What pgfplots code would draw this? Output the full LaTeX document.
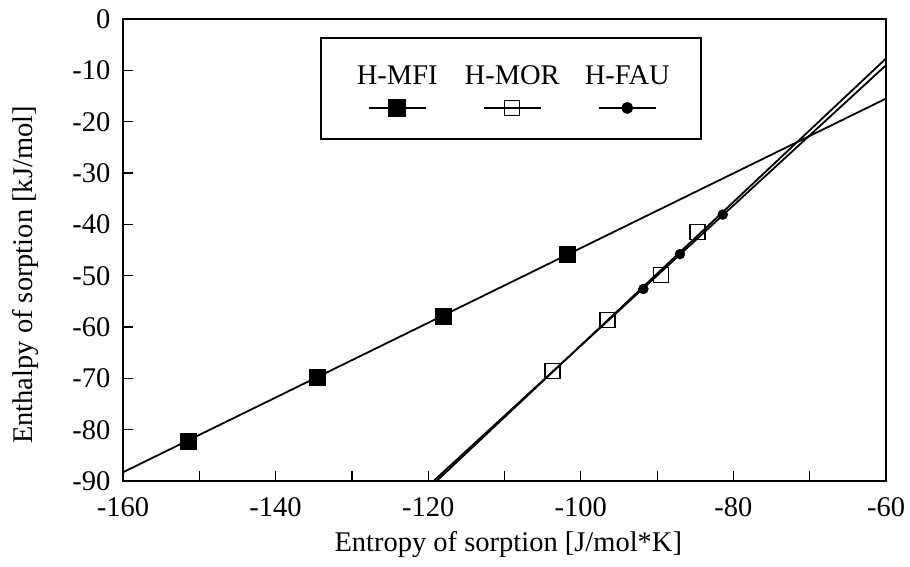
\documentclass[border=0pt]{standalone}
\usepackage{fontspec}
\setmainfont{Liberation Serif}
\usepackage{pgfplots}
\pgfplotsset{compat=1.18}
\pgfplotsset{
  legsample/.style={legend image code/.code={
    \begin{scope}[overlay, shift={(57.5pt,-23pt)}]
      \draw[black, solid, line width=1.2pt] (-28.5pt,0pt) -- (28.5pt,0pt);
      \draw plot coordinates {(0pt,0pt)};
    \end{scope}
  }}
}
\begin{document}
\fontsize{28.5}{34}\selectfont
\begin{tikzpicture}
\begin{axis}[
  scale only axis, width=763pt, height=462pt,
  xmin=-160, xmax=-60, ymin=-90, ymax=0,
  axis line style={line width=2pt},
  tick align=inside, tick pos=left,
  major tick length=10pt, minor tick length=10pt,
  every tick/.style={black, line width=1.2pt},
  xtick={-160,-140,...,-60},
  minor xtick={-150,-130,...,-70},
  ytick={-90,-80,...,0},
  /pgf/number format/assume math mode=true,
  xticklabel style={yshift=-7pt},
  yticklabel style={xshift=-3pt},
  xlabel={Entropy of sorption [J/mol*K]},
  ylabel={Enthalpy of sorption [kJ/mol]},
  every axis x label/.style={at={(axis description cs:0.505,-0.1385)}, anchor=center},
  every axis y label/.style={at={(axis description cs:-0.1278,0.446)}, rotate=90, anchor=center},
  legend columns=3,
  legend style={at={(0.258,0.961)}, anchor=north west, draw=black, line width=1.8pt,
    inner xsep=19pt, inner ysep=28pt, /tikz/column sep=2.5pt,
    cells={anchor=base west},
    nodes={text width=110pt, align=center, inner sep=0pt, text height=19pt, text depth=26pt}},
]
\addplot[black, line width=1.8pt, forget plot] coordinates {(-160,-88.3) (-60,-15.5)};
\addplot[black, line width=1.8pt, forget plot] coordinates {(-119.3,-90) (-60,-9.0)};
\addplot[black, line width=1.8pt, forget plot] coordinates {(-118.9,-90) (-60,-7.7)};

\addplot[only marks, black, mark=square*, mark size=8pt, legsample] coordinates {
  (-151.5,-82.3) (-134.5,-69.8) (-118.0,-57.8) (-101.8,-45.9)
};
\addlegendentry{H-MFI}
\addplot[only marks, black, mark=square, mark size=7.5pt, mark options={line width=1.2pt}, legsample] coordinates {
  (-103.7,-68.6) (-96.5,-58.6) (-89.5,-49.8) (-84.7,-41.5)
};
\addlegendentry{H-MOR}
\addplot[only marks, black, mark=*, mark size=5pt, legsample] coordinates {
  (-91.8,-52.6) (-87.0,-45.8) (-81.4,-38.1)
};
\addlegendentry{H-FAU}
\end{axis}
\pgfresetboundingbox
\path[use as bounding box] (-123pt,-85pt) rectangle (787pt,481pt);
\end{tikzpicture}
\end{document}
